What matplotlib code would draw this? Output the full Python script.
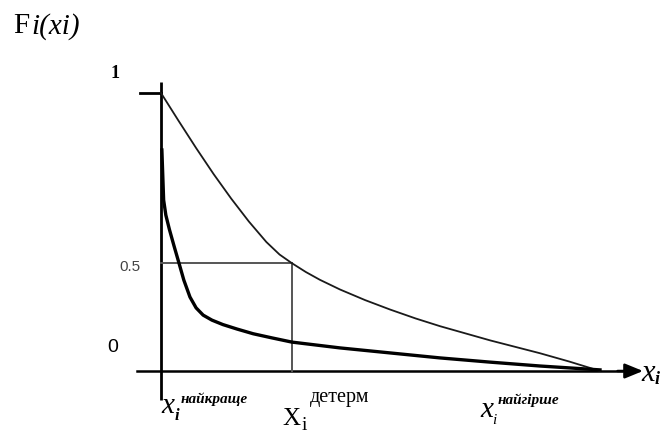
import matplotlib.pyplot as plt

# Schematic: x normalised so x_best = 0, x_worst = 1; y = F_i(x_i) on the
# drawn scale (horizontal axis = 0, top tick = 1).
thin_x = [0.0, 0.04, 0.08, 0.12, 0.16, 0.20, 0.24, 0.27, 0.298, 0.33,
          0.362, 0.408, 0.465, 0.522, 0.58, 0.636, 0.75, 0.863, 0.93, 1.0]
thin_y = [1.0, 0.900, 0.802, 0.708, 0.620, 0.538, 0.464, 0.419, 0.388,
          0.356, 0.328, 0.293, 0.255, 0.221, 0.189, 0.161, 0.110, 0.064,
          0.034, 0.0]

thick_x = [0.002, 0.006, 0.011, 0.019, 0.030, 0.041, 0.052, 0.066, 0.080,
           0.096, 0.116, 0.141, 0.173, 0.210, 0.253, 0.298, 0.408, 0.522,
           0.636, 0.749, 0.863, 1.0]
thick_y = [0.795, 0.615, 0.561, 0.510, 0.448, 0.388, 0.327, 0.266, 0.227,
           0.201, 0.183, 0.167, 0.151, 0.134, 0.119, 0.104, 0.083, 0.065,
           0.047, 0.032, 0.018, 0.004]

half_level = 0.388   # where the 0.5 guide sits on the drawing
x_determ = 0.298     # x where the thin curve crosses the 0.5 guide

W, H = 665, 433
fig = plt.figure(figsize=(W / 100, H / 100), dpi=100)
ax = fig.add_axes([0, 0, 1, 1])
# pixel frame: x=0 at px 161, x=1 at px 600; y=0 at py 371, y=1 at py 93
sx, sy = 439.0, 278.0
ax.set_xlim(-161 / sx, (W - 161) / sx)
ax.set_ylim((371 - H) / sy, 371 / sy)
ax.axis("off")


def fpos(px, py):
    return px / W, 1 - py / H


# axes
ax.plot([0, 0], [-0.104, 1.04], color="black", lw=2.0, solid_capstyle="butt")
ax.plot([-0.055, 1.05], [0, 0], color="black", lw=1.8)
ax.annotate("", xy=(1.098, 0), xytext=(1.04, 0),
            arrowprops=dict(arrowstyle="-|>,head_length=1.1,head_width=0.45",
                            color="black", lw=1.8, shrinkA=0, shrinkB=0))
ax.plot([-0.048, 0], [1.0, 1.0], color="black", lw=2.0)

# 0.5 guides
ax.plot([0, x_determ], [half_level, half_level], color="#555555", lw=1.4)
ax.plot([x_determ, x_determ], [0, half_level], color="#555555", lw=1.4)

# curves
ax.plot(thin_x, thin_y, color="#1a1a1a", lw=1.3)
ax.plot(thick_x, thick_y, color="black", lw=2.4, solid_joinstyle="round")

serif = "Liberation Serif"
# title
fig.text(*fpos(13, 33), "F", fontsize=21, family=serif, va="baseline")
fig.text(*fpos(31, 34), "i(xi)", fontsize=21, family=serif, style="italic",
         va="baseline")

# y labels
fig.text(*fpos(115, 78), "1", fontsize=13, family=serif, weight="bold",
         ha="center", va="baseline")
fig.text(*fpos(130, 267), "0.5", fontsize=11, family="Liberation Sans",
         color="#444444", ha="center", va="center")
fig.text(*fpos(113, 347), "0", fontsize=14, family="Liberation Sans",
         ha="center", va="center")

# x labels
fig.text(*fpos(161, 413), "x", fontsize=21, family=serif, style="italic",
         va="baseline")
fig.text(*fpos(175, 420), "i", fontsize=12, family=serif, style="italic",
         weight="bold", va="baseline")
fig.text(*fpos(181, 403), "найкраще", fontsize=11, family=serif,
         style="italic", weight="bold", va="baseline")

fig.text(*fpos(282, 425), "X", fontsize=18, family=serif, va="baseline")
fig.text(*fpos(302, 430), "i", fontsize=14, family=serif, va="baseline")
fig.text(*fpos(310, 402), "детерм", fontsize=14.5, family=serif,
         va="baseline")

fig.text(*fpos(480, 417), "x", fontsize=21, family=serif, style="italic",
         va="baseline")
fig.text(*fpos(492, 424), "i", fontsize=11, family=serif, style="italic",
         va="baseline")
fig.text(*fpos(498, 404), "найгірше", fontsize=11, family=serif,
         style="italic", weight="bold", va="baseline")

fig.text(*fpos(641, 381), "x", fontsize=22, family=serif, style="italic",
         va="baseline")
fig.text(*fpos(655, 384), "i", fontsize=13, family=serif, style="italic",
         weight="bold", va="baseline")

fig.savefig("out.png", dpi=100)
